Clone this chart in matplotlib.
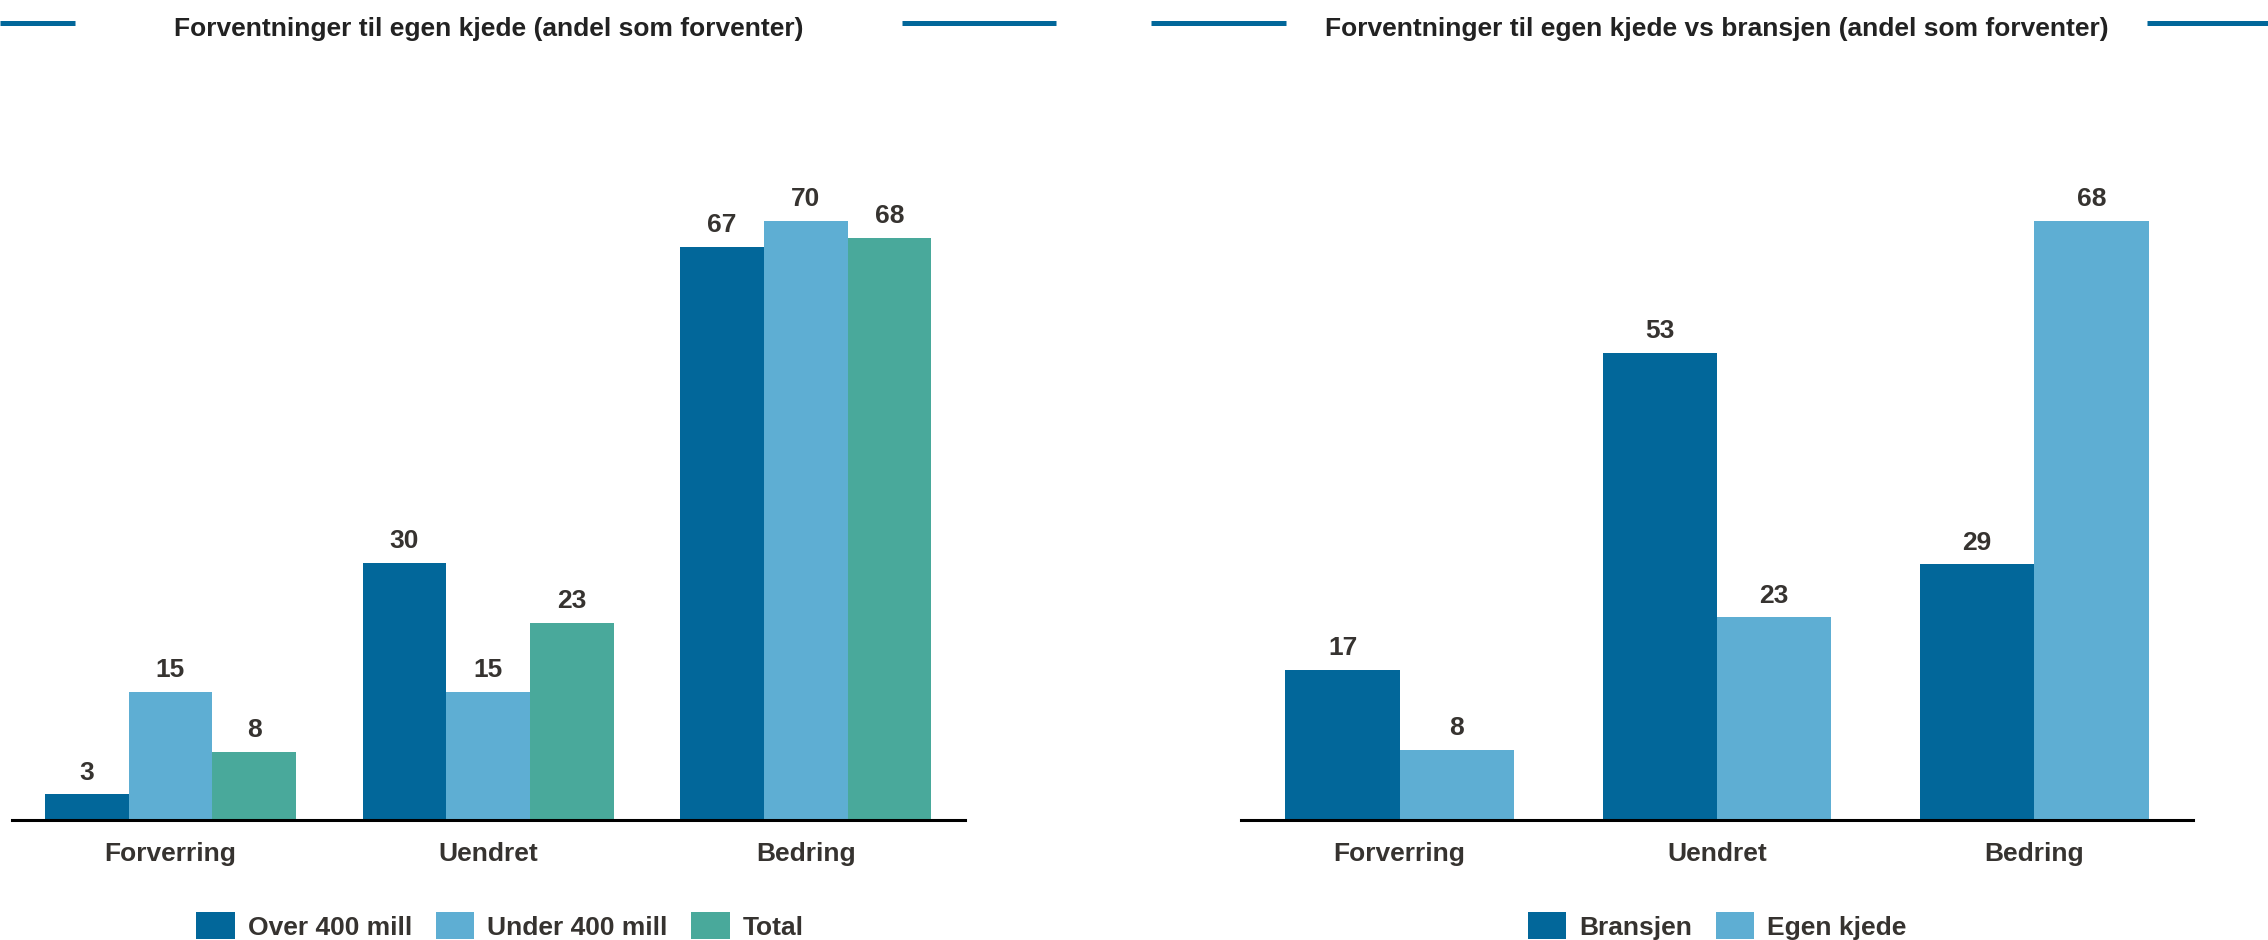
import matplotlib
matplotlib.use("Agg")
import matplotlib.pyplot as plt
import numpy as np
from matplotlib.patches import Patch
from matplotlib.lines import Line2D

plt.rcParams['font.family'] = ['Liberation Sans', 'DejaVu Sans']

categories = ["Forverring", "Uendret", "Bedring"]

left_title = "Forventninger til egen kjede (andel som forventer)"
left_series = ["Over 400 mill", "Under 400 mill", "Total"]
left_values = [
    [3, 30, 67],
    [15, 15, 70],
    [8, 23, 68],
]

right_title = "Forventninger til egen kjede vs bransjen (andel som forventer)"
right_series = ["Bransjen", "Egen kjede"]
right_values = [
    [17, 53, 29],
    [8, 23, 68],
]

DARK = "#02679A"
LIGHT = "#5EAED3"
TEAL = "#49A99B"
TXT = "#363330"

W, H = 2268, 940
fig = plt.figure(figsize=(W / 100, H / 100), dpi=100)

def panel(rect, series, values, colors, group_frac, title, title_cx, line_segs, legend_cx):
    ax = fig.add_axes(rect)
    n = len(series)
    x = np.arange(len(categories))
    bw = group_frac / n
    vmax = max(max(v) for v in values)
    for i, (s, vals, c) in enumerate(zip(series, values, colors)):
        pos = x - group_frac / 2 + bw * (i + 0.5)
        ax.bar(pos, vals, width=bw, color=c, label=s, zorder=2)
        for p, v in zip(pos, vals):
            ax.annotate(str(v), (p, v), xytext=(0, 7), textcoords="offset points",
                        ha="center", va="bottom", fontsize=19, fontweight="bold", color=TXT)
    ax.set_xlim(-0.5, 2.5)
    ax.set_ylim(0, vmax * 1.2)
    ax.set_yticks([])
    ax.set_xticks(x)
    ax.set_xticklabels(categories, fontsize=19, fontweight="bold", color=TXT)
    ax.tick_params(axis="x", length=0, pad=16)
    for sp in ["top", "right", "left"]:
        ax.spines[sp].set_visible(False)
    ax.spines["bottom"].set_linewidth(2.2)
    ax.spines["bottom"].set_color("#000000")
    ax.spines["bottom"].set_zorder(3)
    # title
    fig.text(title_cx / W, 1 - 29 / H, title, ha="center", va="center",
             fontsize=19, fontweight="bold", color="#222222")
    for (x0, x1) in line_segs:
        fig.add_artist(Line2D([x0 / W, x1 / W], [1 - 23 / H, 1 - 23 / H],
                              color=DARK, linewidth=3.6, solid_capstyle="butt"))
    handles = [Patch(facecolor=c, edgecolor="none") for c in colors]
    fig.legend(handles, series, loc="center", bbox_to_anchor=(legend_cx / W, 1 - 926 / H),
               ncol=n, frameon=False, handlelength=1.45, handleheight=1.2,
               handletextpad=0.5, columnspacing=0.9,
               prop={"size": 19, "weight": "bold"}, labelcolor=TXT)
    return ax

panel([11.6 / W, 120 / H, 953 / W, 719 / H], left_series, left_values,
      [DARK, LIGHT, TEAL], 0.79, left_title, 489,
      [(0, 75), (902, 1056)], 500)
panel([1241 / W, 120 / H, 952 / W, 719 / H], right_series, right_values,
      [DARK, LIGHT], 0.72, right_title, 1717,
      [(1151, 1286), (2147, 2268)], 1717)

fig.savefig("out.png", dpi=100)
